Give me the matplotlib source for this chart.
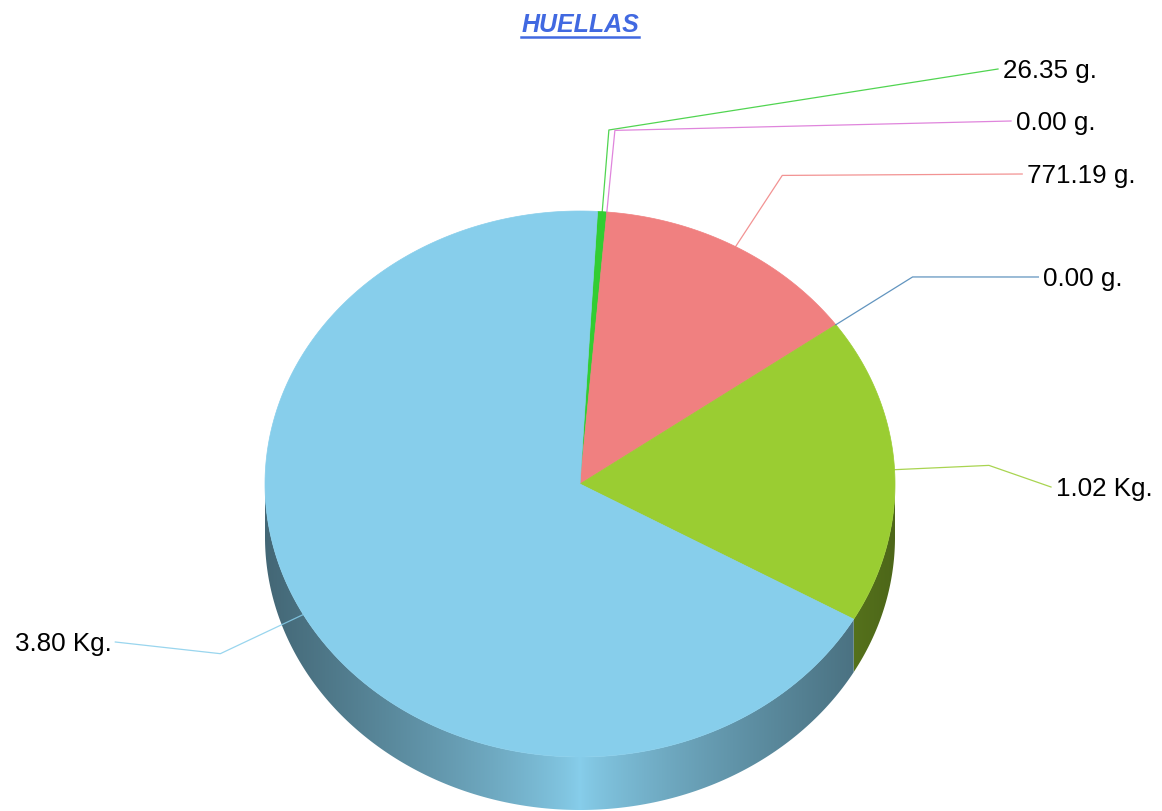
import matplotlib
matplotlib.use('Agg')
import matplotlib.pyplot as plt
from matplotlib.patches import Polygon
import numpy as np

# Datos del gráfico (en gramos), en orden horario desde arriba
valores = [26.35, 0.0, 771.19, 0.0, 1020.0, 3800.0]
etiquetas = ['26.35 g.', '0.00 g.', '771.19 g.', '0.00 g.', '1.02 Kg.', '3.80 Kg.']
colores = ['#32CD32', '#DA70D6', '#F08080', '#4682B4', '#9ACD32', '#87CEEB']
titulo = 'HUELLAS'

# Geometría del pastel 3D (en píxeles)
cx, cy = 580, 485
rx, ry = 315, 273
profundidad = 53
angulo_inicio = 86.8
# Altura de cada etiqueta (final de la línea guía)
etiquetas_y = [70, 122, 175, 278, 488, 643]

plt.rcParams['font.family'] = ['Liberation Sans', 'DejaVu Sans']

fig = plt.figure(figsize=(11.62, 8.12), dpi=100)
ax = fig.add_axes([0, 0, 1, 1])
ax.set_xlim(0, 1162)
ax.set_ylim(812, 0)
ax.axis('off')


def punto(t, escala=1.0, dy=0.0):
    t = np.radians(t)
    return cx + escala * rx * np.cos(t), cy - escala * ry * np.sin(t) + dy


def color_lado(base, dx):
    f = 1 - 0.5 * np.abs(dx) ** 0.8
    rgb = np.array(matplotlib.colors.to_rgb(base))
    return np.clip(f[:, None] * rgb[None, :], 0, 1)


total = sum(valores)
angulos = []
a = angulo_inicio
for v in valores:
    b = a - 360 * v / total
    angulos.append((b, a))  # intervalo antihorario [b, a]
    a = b

# Paredes laterales (solo la mitad frontal)
xs = np.linspace(cx - rx, cx + rx, 600)
for (lo, hi), col, v in zip(angulos, colores, valores):
    if v <= 0:
        continue
    for k in range(-2, 2):
        s0, s1 = 180 + 360 * k, 360 + 360 * k
        a0, a1 = max(lo, s0), min(hi, s1)
        if a1 <= a0:
            continue
        t = np.linspace(a0, a1, 200)
        x_sup, y_sup = punto(t)
        x_inf, y_inf = punto(t[::-1], dy=profundidad)
        poly = Polygon(np.column_stack([np.r_[x_sup, x_inf], np.r_[y_sup, y_inf]]),
                       closed=True, facecolor='none', edgecolor='none')
        ax.add_patch(poly)
        img = color_lado(col, (xs - cx) / rx)[None, :, :]
        im = ax.imshow(img, extent=[cx - rx, cx + rx, cy + ry + profundidad, cy - ry],
                       aspect='auto', interpolation='bilinear', zorder=1)
        im.set_clip_path(poly)

# Caras superiores
for (lo, hi), col, v in zip(angulos, colores, valores):
    if v <= 0:
        continue
    t = np.linspace(lo, hi, 300)
    x, y = punto(t)
    pts = np.column_stack([np.r_[cx, x], np.r_[cy, y]])
    ax.add_patch(Polygon(pts, closed=True, facecolor=col, edgecolor=col,
                         linewidth=0.5, zorder=3))

# Líneas guía y etiquetas
for (lo, hi), col, texto, ly in zip(angulos, colores, etiquetas, etiquetas_y):
    medio = (lo + hi) / 2
    x0, y0 = punto(medio)
    x1, y1 = punto(medio, escala=1.3)
    dy = cy - ly
    ancho = 476 * np.sqrt(max(0.0, 1 - (dy / 905) ** 2))
    if np.cos(np.radians(medio)) >= 0:
        tx = cx + ancho
        x2 = tx - 5
        ha = 'left'
    else:
        tx = cx - ancho
        x2 = tx + 4
        ha = 'right'
    ax.plot([x0, x1, x2], [y0, y1, ly], color=col, linewidth=0.9, alpha=0.85, zorder=4)
    ax.text(tx, ly + 8, texto, fontsize=18.7, ha=ha, va='baseline', color='black', zorder=5)

# Título subrayado
t = ax.text(cx, 32, titulo, fontsize=18, fontweight='bold', fontstyle='italic',
            color='#4169E1', ha='center', va='baseline', zorder=5)
fig.canvas.draw()
bb = t.get_window_extent().transformed(ax.transData.inverted())
ax.plot([bb.x0, bb.x1], [38, 38], color='#4169E1', linewidth=1.8, zorder=5)

fig.savefig('out.png', dpi=100)
